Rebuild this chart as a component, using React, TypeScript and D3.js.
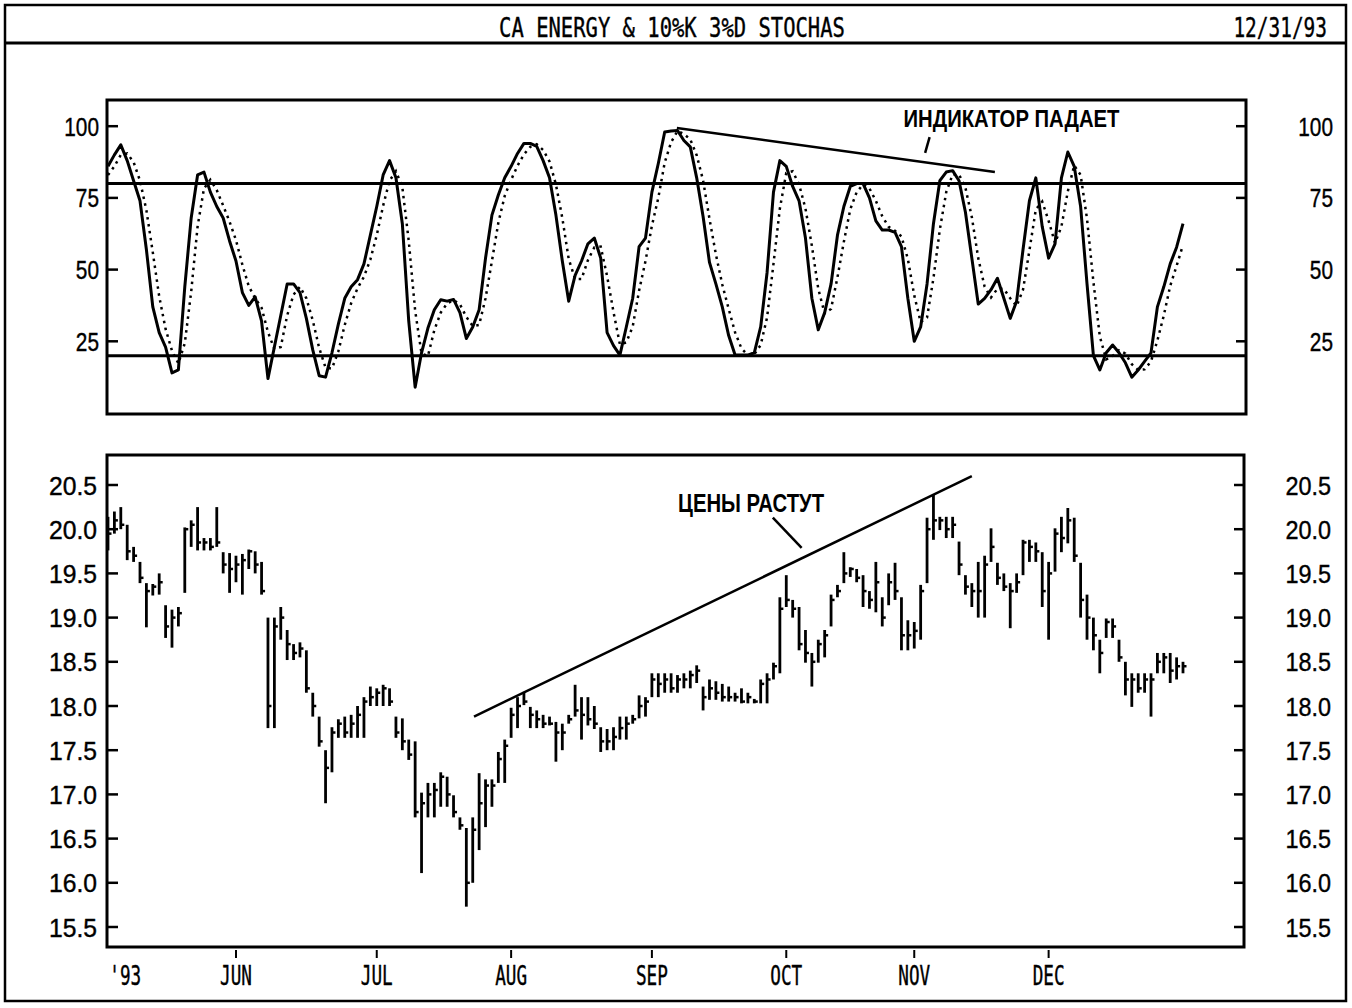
import React from 'react';
import * as d3 from 'd3';

// ---- data ----
// one bar per trading day, day 0 = first bar in May 1993
const monthLabels = ['JUN', 'JUL', 'AUG', 'SEP', 'OCT', 'NOV', 'DEC'];
const monthDays = [20, 42, 63, 85, 106, 126, 147];
const yearLabel = "'93";
const yearDay = 2.7;

const highs = [
  20.14, 20.2, 20.25, 20.05, 19.8, 19.63, 19.39, 19.38, 19.5, 19.14,
  19.09, 19.12, 20.02, 20.1, 20.25, 19.9, 19.9, 20.25, 19.74, 19.73,
  19.7, 19.72, 19.77, 19.75, 19.63, 19.0, 19.0, 19.12, 18.86, 18.7,
  18.72, 18.63, 18.15, 17.88, 17.5, 17.76, 17.85, 17.88, 17.9, 18.0,
  18.1, 18.22, 18.2, 18.24, 18.2, 17.88, 17.86, 17.62, 17.6, 17.02,
  17.13, 17.13, 17.25, 17.2, 16.99, 16.74, 16.62, 16.74, 17.24, 17.17,
  17.17, 17.48, 17.62, 17.98, 18.1, 18.16, 17.99, 17.95, 17.9, 17.88,
  17.82, 17.8, 17.9, 18.24, 18.1, 18.1, 18.0, 17.76, 17.74, 17.76,
  17.88, 17.88, 17.9, 18.12, 18.1, 18.37, 18.37, 18.37, 18.37, 18.35,
  18.37, 18.4, 18.46, 18.22, 18.3, 18.28, 18.25, 18.22, 18.15, 18.2,
  18.15, 18.08, 18.3, 18.37, 18.49, 19.23, 19.48, 19.2, 19.12, 18.86,
  18.6, 18.75, 18.86, 19.26, 19.37, 19.74, 19.57, 19.55, 19.48, 19.3,
  19.63, 19.23, 19.5, 19.62, 19.23, 18.97, 18.95, 19.37, 20.13, 20.39,
  20.14, 20.14, 20.14, 19.86, 19.48, 19.39, 19.63, 19.7, 20.01, 19.62,
  19.5, 19.39, 19.5, 19.88, 19.88, 19.85, 19.74, 19.63, 20.01, 20.14,
  20.24, 20.13, 19.62, 19.26, 19.0, 18.75, 18.99, 18.99, 18.75, 18.5,
  18.37, 18.37, 18.37, 18.37, 18.6, 18.6, 18.6, 18.55, 18.5,
];
const lows = [
  19.76, 19.95, 20.0, 19.65, 19.63, 19.39, 18.89, 19.25, 19.26, 18.77,
  18.66, 18.9, 19.28, 19.8, 19.76, 19.76, 19.76, 19.8, 19.5, 19.28,
  19.4, 19.26, 19.55, 19.5, 19.26, 17.75, 17.75, 18.75, 18.52, 18.52,
  18.55, 18.15, 17.88, 17.54, 16.9, 17.25, 17.64, 17.64, 17.64, 17.64,
  17.64, 18.0, 18.0, 18.0, 18.0, 17.64, 17.5, 17.39, 16.74, 16.11,
  16.74, 16.74, 16.86, 16.86, 16.74, 16.6, 15.73, 16.0, 16.37, 16.63,
  16.86, 17.13, 17.13, 17.64, 17.75, 18.01, 17.75, 17.75, 17.75, 17.78,
  17.37, 17.5, 17.8, 17.88, 17.62, 17.78, 17.74, 17.48, 17.5, 17.5,
  17.62, 17.62, 17.8, 17.86, 17.88, 18.1, 18.1, 18.15, 18.15, 18.15,
  18.2, 18.2, 18.26, 17.95, 18.07, 18.07, 18.05, 18.05, 18.05, 18.03,
  18.03, 18.03, 18.03, 18.03, 18.3, 18.37, 19.12, 19.0, 18.63, 18.49,
  18.22, 18.49, 18.55, 18.9, 19.23, 19.39, 19.46, 19.4, 19.12, 19.1,
  19.06, 18.9, 19.14, 19.2, 18.63, 18.63, 18.65, 18.75, 19.39, 19.88,
  19.99, 19.9, 19.9, 19.48, 19.26, 19.12, 19.0, 19.0, 19.63, 19.37,
  19.3, 18.88, 19.28, 19.48, 19.63, 19.63, 19.12, 18.75, 19.52, 19.74,
  19.84, 19.63, 19.0, 18.75, 18.63, 18.37, 18.77, 18.77, 18.5, 18.12,
  17.99, 18.15, 18.15, 17.88, 18.37, 18.37, 18.26, 18.3, 18.37,
];
const closes = [
  19.95, 20.1, 20.05, 19.75, 19.7, 19.45, 19.3, 19.35, 19.4, 18.9,
  19.0, 19.05, 20.0, 20.05, 19.85, 19.85, 19.8, 19.85, 19.6, 19.55,
  19.6, 19.65, 19.75, 19.6, 19.3, 18.0, 18.9, 19.0, 18.7, 18.6,
  18.65, 18.2, 18.0, 17.6, 17.3, 17.7, 17.8, 17.7, 17.8, 17.9,
  18.05, 18.1, 18.15, 18.2, 18.05, 17.7, 17.6, 17.45, 16.8, 16.9,
  17.0, 17.05, 17.2, 17.0, 16.8, 16.65, 16.0, 16.6, 16.9, 17.1,
  17.1, 17.4, 17.55, 17.9, 18.0, 18.05, 17.9, 17.85, 17.8, 17.8,
  17.7, 17.7, 17.85, 17.95, 17.9, 17.85, 17.8, 17.6, 17.6, 17.65,
  17.75, 17.8, 17.85, 18.0, 18.05, 18.3, 18.25, 18.3, 18.2, 18.3,
  18.3, 18.35, 18.4, 18.1, 18.2, 18.15, 18.1, 18.1, 18.1, 18.05,
  18.1, 18.05, 18.25, 18.3, 18.45, 19.1, 19.2, 19.1, 18.7, 18.6,
  18.5, 18.7, 18.8, 19.2, 19.3, 19.5, 19.55, 19.45, 19.3, 19.2,
  19.4, 19.0, 19.4, 19.3, 18.8, 18.8, 18.85, 19.3, 20.0, 20.1,
  20.1, 20.0, 20.05, 19.6, 19.35, 19.3, 19.3, 19.6, 19.8, 19.45,
  19.35, 19.3, 19.4, 19.85, 19.8, 19.75, 19.3, 19.5, 19.95, 19.9,
  20.1, 19.7, 19.2, 19.0, 18.8, 18.6, 18.95, 18.9, 18.55, 18.3,
  18.3, 18.2, 18.3, 18.3, 18.5, 18.55, 18.4, 18.45, 18.45,
];

const pctK = [
  86, 90, 93.5, 88, 81, 74, 57, 37, 28, 23,
  14, 15, 44, 68, 83, 84, 77, 72, 68, 60,
  53, 42, 37.5, 40.5, 32, 12, 23, 34, 45, 45,
  42, 33, 22, 13, 12.5, 21, 31, 40, 44, 46.5,
  52, 62, 72, 83, 88, 82, 66, 32, 9, 21,
  29.6, 36, 39.5, 39, 39.6, 35, 26, 30, 36, 54,
  69, 76, 82, 86, 90.5, 94, 94, 93, 88, 82,
  69, 53, 39, 48, 53, 59, 61, 54, 28, 23.5,
  20.2, 30, 40, 58, 61, 77, 87, 98, 98.3, 98.5,
  95, 92.8, 82, 68.5, 52.5, 45, 37, 27, 20.2, 20.2,
  20.2, 21, 30, 49, 77, 88, 86, 79, 74, 61,
  40, 29, 35, 45, 62, 72, 79, 80, 80, 75,
  67, 63.8, 63.8, 63, 58, 40, 25, 30, 45, 66,
  81, 84, 84.5, 81, 70, 54, 38, 40, 43, 47,
  40, 33, 39, 57, 74, 82, 65, 54, 59, 82,
  91, 86, 72, 45, 20, 15, 21, 23.7, 21, 17.5,
  12.5, 15, 18, 21, 37, 44, 52, 57.8, 66,
];
const pctD = [
  83, 86, 90, 90.5, 87.5, 81, 70.7, 56, 40.7, 29.3,
  21.7, 17.3, 24.3, 42.3, 65, 78.3, 81.3, 77.7, 72.3, 66.7,
  60.3, 51.7, 44.2, 40, 36.7, 28.2, 22.3, 23, 34, 41.3,
  44, 40, 32.3, 22.7, 15.8, 15.5, 21.5, 30.7, 38.3, 43.5,
  47.5, 53.5, 62, 72.3, 81, 84.3, 78.7, 60, 35.7, 20.7,
  19.9, 28.9, 35, 38.2, 39.4, 37.9, 33.5, 30.3, 30.7, 40,
  53, 66.3, 75.7, 81.3, 86.2, 90.2, 92.8, 93.7, 91.7, 87.7,
  79.7, 68, 53.7, 46.7, 46.7, 53.3, 57.7, 58, 47.7, 35.2,
  23.9, 24.6, 30.1, 42.7, 53, 65.3, 75, 87.3, 94.4, 98.3,
  97.3, 95.4, 89.9, 81.1, 67.7, 55.3, 44.8, 36.3, 28.1, 22.5,
  20.2, 20.5, 23.7, 33.3, 52, 71.3, 83.7, 84.3, 79.7, 71.3,
  58.3, 43.3, 34.7, 36.3, 47.3, 59.7, 71, 77, 79.7, 78.3,
  74, 68.6, 64.9, 63.5, 61.6, 53.7, 41, 31.7, 33.3, 47,
  64, 77, 83.2, 83.2, 78.5, 68.3, 54, 44, 40.3, 43.3,
  43.3, 40, 37.3, 43, 56.7, 71, 73.7, 67, 59.3, 65,
  77.3, 86.3, 83, 67.7, 45.7, 26.7, 18.7, 19.9, 21.9, 20.7,
  17, 15, 15.2, 18, 25.3, 34, 44.3, 51.3, 58.6,
];

const stochTicks = [25, 50, 75, 100];
const stochBands = [20, 80];
const priceTicks = [15.5, 16, 16.5, 17, 17.5, 18, 18.5, 19, 19.5, 20, 20.5];

const indicatorTrend = [{ day: 88.9, v: 99.4 }, { day: 138.6, v: 84 }];
const indicatorLabel = { day: 141.2, v: 99.6, text: 'ИНДИКАТОР ПАДАЕТ' };
const indicatorLeader = [{ day: 128.4, v: 96.2 }, { day: 127.7, v: 90.7 }];

const priceTrend = [{ day: 57.2, v: 17.88 }, { day: 135, v: 20.6 }];
const priceLabel = { day: 100.5, v: 20.19, text: 'ЦЕНЫ РАСТУТ' };
const priceLeader = [{ day: 103.9, v: 20.13 }, { day: 108.4, v: 19.79 }];

const title = 'CA ENERGY & 10%K 3%D STOCHAS';
const dateLabel = '12/31/93';

// ---- layout ----
const W = 1352;
const H = 1008;
const top = { left: 107, right: 1246, top: 100, bottom: 414 };
const bot = { left: 107, right: 1244, top: 455, bottom: 947 };

const INK = '#000';
const LABEL_FONT = '"Liberation Sans", Arial, sans-serif';
const MONO_FONT = '"DejaVu Sans Mono", "Liberation Mono", monospace';

type Pt = { day: number; v: number };

function Squeezed(props: {
  x: number; y: number; text: string; size: number; sx: number;
  anchor?: 'start' | 'middle' | 'end'; family?: string; weight?: string;
}) {
  const { x, y, text, size, sx, anchor = 'start', family = LABEL_FONT, weight = 'normal' } = props;
  return (
    <text
      transform={`translate(${x},${y}) scale(${sx},1)`}
      textAnchor={anchor}
      fontFamily={family}
      fontSize={size}
      fontWeight={weight}
      fill={INK}
      stroke={INK}
      strokeWidth={0.4}
    >
      {text}
    </text>
  );
}

export default function App() {
  const x = d3.scaleLinear().domain([0, 168]).range([108, 1183]);
  const yS = d3.scaleLinear().domain([0, 100]).range([413, 126.2]);
  const yP = d3.scaleLinear().domain([15.5, 20.5]).range([927, 485]);

  const kLine = d3.line<number>().x((_, i) => x(i)).y(d => yS(d));
  const trendS = d3.line<Pt>().x(d => x(d.day)).y(d => yS(d.v));
  const trendP = d3.line<Pt>().x(d => x(d.day)).y(d => yP(d.v));

  return (
    <svg
      width={W}
      height={H}
      viewBox={`0 0 ${W} ${H}`}
      style={{ position: 'absolute', left: 0, top: 0, background: '#fff' }}
    >
      <rect x={0} y={0} width={W} height={H} fill="#fff" />

      {/* outer frame + title bar */}
      <rect x={5} y={5} width={1341} height={996} fill="none" stroke={INK} strokeWidth={2.5} />
      <line x1={5} x2={1346} y1={43} y2={43} stroke={INK} strokeWidth={3} />
      <Squeezed x={672} y={37} text={title} size={27} sx={0.76} anchor="middle" family={MONO_FONT} />
      <Squeezed x={1327} y={37} text={dateLabel} size={27} sx={0.72} anchor="end" family={MONO_FONT} />

      {/* ---- stochastic panel ---- */}
      <rect x={top.left} y={top.top} width={top.right - top.left} height={top.bottom - top.top}
        fill="none" stroke={INK} strokeWidth={3} />
      {stochTicks.map(t => (
        <g key={t}>
          <line x1={top.left} x2={top.left + 11} y1={yS(t)} y2={yS(t)} stroke={INK} strokeWidth={2.5} />
          <line x1={top.right - 10} x2={top.right} y1={yS(t)} y2={yS(t)} stroke={INK} strokeWidth={2.5} />
          <Squeezed x={99} y={yS(t) + 9.5} text={String(t)} size={26} sx={0.8} anchor="end" />
          <Squeezed x={1333} y={yS(t) + 9.5} text={String(t)} size={26} sx={0.8} anchor="end" />
        </g>
      ))}
      {stochBands.map(b => (
        <line key={b} x1={top.left} x2={top.right} y1={yS(b)} y2={yS(b)} stroke={INK} strokeWidth={3} />
      ))}
      <path d={kLine(pctD) ?? ''} fill="none" stroke={INK} strokeWidth={2.5} strokeDasharray="2.5,4.5" />
      <path d={kLine(pctK) ?? ''} fill="none" stroke={INK} strokeWidth={3} strokeLinejoin="round" />
      <path d={trendS(indicatorTrend) ?? ''} fill="none" stroke={INK} strokeWidth={2.5} />
      <path d={trendS(indicatorLeader) ?? ''} fill="none" stroke={INK} strokeWidth={2.5} />
      <text x={x(indicatorLabel.day)} y={yS(indicatorLabel.v)} textAnchor="middle"
        fontFamily={LABEL_FONT} fontWeight="bold" fontSize={24} textLength={216}
        lengthAdjust="spacingAndGlyphs" fill={INK}>
        {indicatorLabel.text}
      </text>

      {/* ---- price panel ---- */}
      <rect x={bot.left} y={bot.top} width={bot.right - bot.left} height={bot.bottom - bot.top}
        fill="none" stroke={INK} strokeWidth={3} />
      {priceTicks.map(t => (
        <g key={t}>
          <line x1={bot.left} x2={bot.left + 11} y1={yP(t)} y2={yP(t)} stroke={INK} strokeWidth={2.5} />
          <line x1={bot.right - 10} x2={bot.right} y1={yP(t)} y2={yP(t)} stroke={INK} strokeWidth={2.5} />
          <Squeezed x={97} y={yP(t) + 9.5} text={t.toFixed(1)} size={26} sx={0.95} anchor="end" />
          <Squeezed x={1331} y={yP(t) + 9.5} text={t.toFixed(1)} size={26} sx={0.9} anchor="end" />
        </g>
      ))}
      {highs.map((h, i) => (
        <g key={i}>
          <line x1={x(i)} x2={x(i)} y1={yP(h)} y2={yP(lows[i])} stroke={INK} strokeWidth={2.8} />
          <line x1={x(i)} x2={x(i) + 3.5} y1={yP(closes[i])} y2={yP(closes[i])} stroke={INK} strokeWidth={2.5} />
        </g>
      ))}
      <path d={trendP(priceTrend) ?? ''} fill="none" stroke={INK} strokeWidth={2.5} />
      <path d={trendP(priceLeader) ?? ''} fill="none" stroke={INK} strokeWidth={2.5} />
      <text x={x(priceLabel.day)} y={yP(priceLabel.v)} textAnchor="middle"
        fontFamily={LABEL_FONT} fontWeight="bold" fontSize={25} textLength={146}
        lengthAdjust="spacingAndGlyphs" fill={INK}>
        {priceLabel.text}
      </text>

      {/* ---- time axis ---- */}
      {monthDays.map((d, i) => (
        <g key={d}>
          <line x1={x(d)} x2={x(d)} y1={bot.bottom + 3} y2={bot.bottom + 11} stroke={INK} strokeWidth={2} />
          <Squeezed x={x(d)} y={985} text={monthLabels[i]} size={26} sx={0.68} anchor="middle" family={MONO_FONT} />
        </g>
      ))}
      <Squeezed x={x(yearDay)} y={985} text={yearLabel} size={26} sx={0.68} anchor="middle" family={MONO_FONT} />
    </svg>
  );
}
